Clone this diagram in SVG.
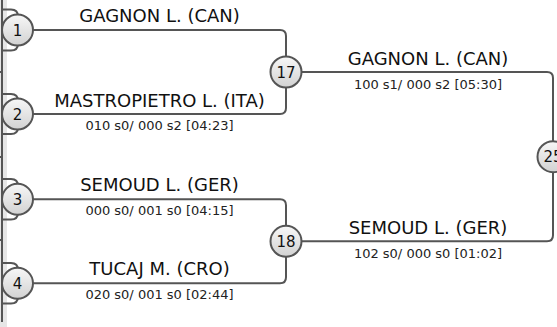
<svg xmlns="http://www.w3.org/2000/svg" width="557" height="327" viewBox="0 0 557 327">
<defs>
<linearGradient id="g" x1="0" y1="0" x2="0" y2="1">
<stop offset="0" stop-color="#f7f7f7"/>
<stop offset="1" stop-color="#d2d2d2"/>
</linearGradient>
<style>
.c{fill:none;stroke:#555;stroke-width:2;}
.n circle{fill:url(#g);stroke:#555;stroke-width:2;}
.n text{font-family:"DejaVu Sans",sans-serif;font-size:15px;fill:#111;text-anchor:middle;}
.nm{font-family:"DejaVu Sans",sans-serif;font-size:18px;fill:#111;text-anchor:middle;}
.sc{font-family:"DejaVu Sans",sans-serif;font-size:13px;fill:#222;text-anchor:middle;}
</style>
</defs>
<rect x="0" y="0" width="557" height="327" fill="#fff"/>
<rect x="0" y="0" width="7" height="327" fill="#e6e6e6"/>
<g id="connectors">
<path class="c" d="M2 0 V322"/>
<path class="c" d="M0 72 H2 M0 157 H2 M0 240 H2"/>
<path class="c" d="M2 9.5 H11 Q18 9.5 18 16.5 V43.5 Q18 50.5 11 50.5 H2"/>
<path class="c" d="M2 94 H11 Q18 94 18 101 V127 Q18 134 11 134 H2"/>
<path class="c" d="M2 179 H11 Q18 179 18 186 V212.5 Q18 219.5 11 219.5 H2"/>
<path class="c" d="M2 263 H11 Q18 263 18 270 V296.5 Q18 303.5 11 303.5 H2"/>
<path class="c" d="M17.5 30 H280 Q286 30 286 36 V108 Q286 114 280 114 H17.5"/>
<path class="c" d="M17.5 199.3 H280 Q286 199.3 286 205.3 V277.3 Q286 283.3 280 283.3 H17.5"/>
<path class="c" d="M286 72 H547 Q553 72 553 78 V235.3 Q553 241.3 547 241.3 H286"/>
</g>
<g id="labels">
<text class="nm" x="159.5" y="21.5">GAGNON L. (CAN)</text>
<text class="nm" x="159.5" y="106.5">MASTROPIETRO L. (ITA)</text>
<text class="sc" x="159.5" y="130">010 s0/ 000 s2 [04:23]</text>
<text class="nm" x="159.5" y="190.8">SEMOUD L. (GER)</text>
<text class="sc" x="159.5" y="215">000 s0/ 001 s0 [04:15]</text>
<text class="nm" x="159.5" y="275">TUCAJ M. (CRO)</text>
<text class="sc" x="159.5" y="298.5">020 s0/ 001 s0 [02:44]</text>
<text class="nm" x="428" y="65">GAGNON L. (CAN)</text>
<text class="sc" x="428" y="89">100 s1/ 000 s2 [05:30]</text>
<text class="nm" x="428" y="234">SEMOUD L. (GER)</text>
<text class="sc" x="428" y="258">102 s0/ 000 s0 [01:02]</text>
</g>
<g id="n1" class="n"><circle cx="17.5" cy="30" r="15.5"/><text x="17.5" y="35.5">1</text></g>
<g id="n2" class="n"><circle cx="17.5" cy="114" r="15.5"/><text x="17.5" y="119.5">2</text></g>
<g id="n3" class="n"><circle cx="17.5" cy="199.3" r="15.5"/><text x="17.5" y="204.8">3</text></g>
<g id="n4" class="n"><circle cx="17.5" cy="283.3" r="15.5"/><text x="17.5" y="288.8">4</text></g>
<g id="n17" class="n"><circle cx="286" cy="72" r="15.5"/><text x="286" y="77.5">17</text></g>
<g id="n18" class="n"><circle cx="286" cy="241.3" r="15.5"/><text x="286" y="246.8">18</text></g>
<g id="n25" class="n"><circle cx="553" cy="156.7" r="15.5"/><text x="553" y="162.2">25</text></g>
</svg>
